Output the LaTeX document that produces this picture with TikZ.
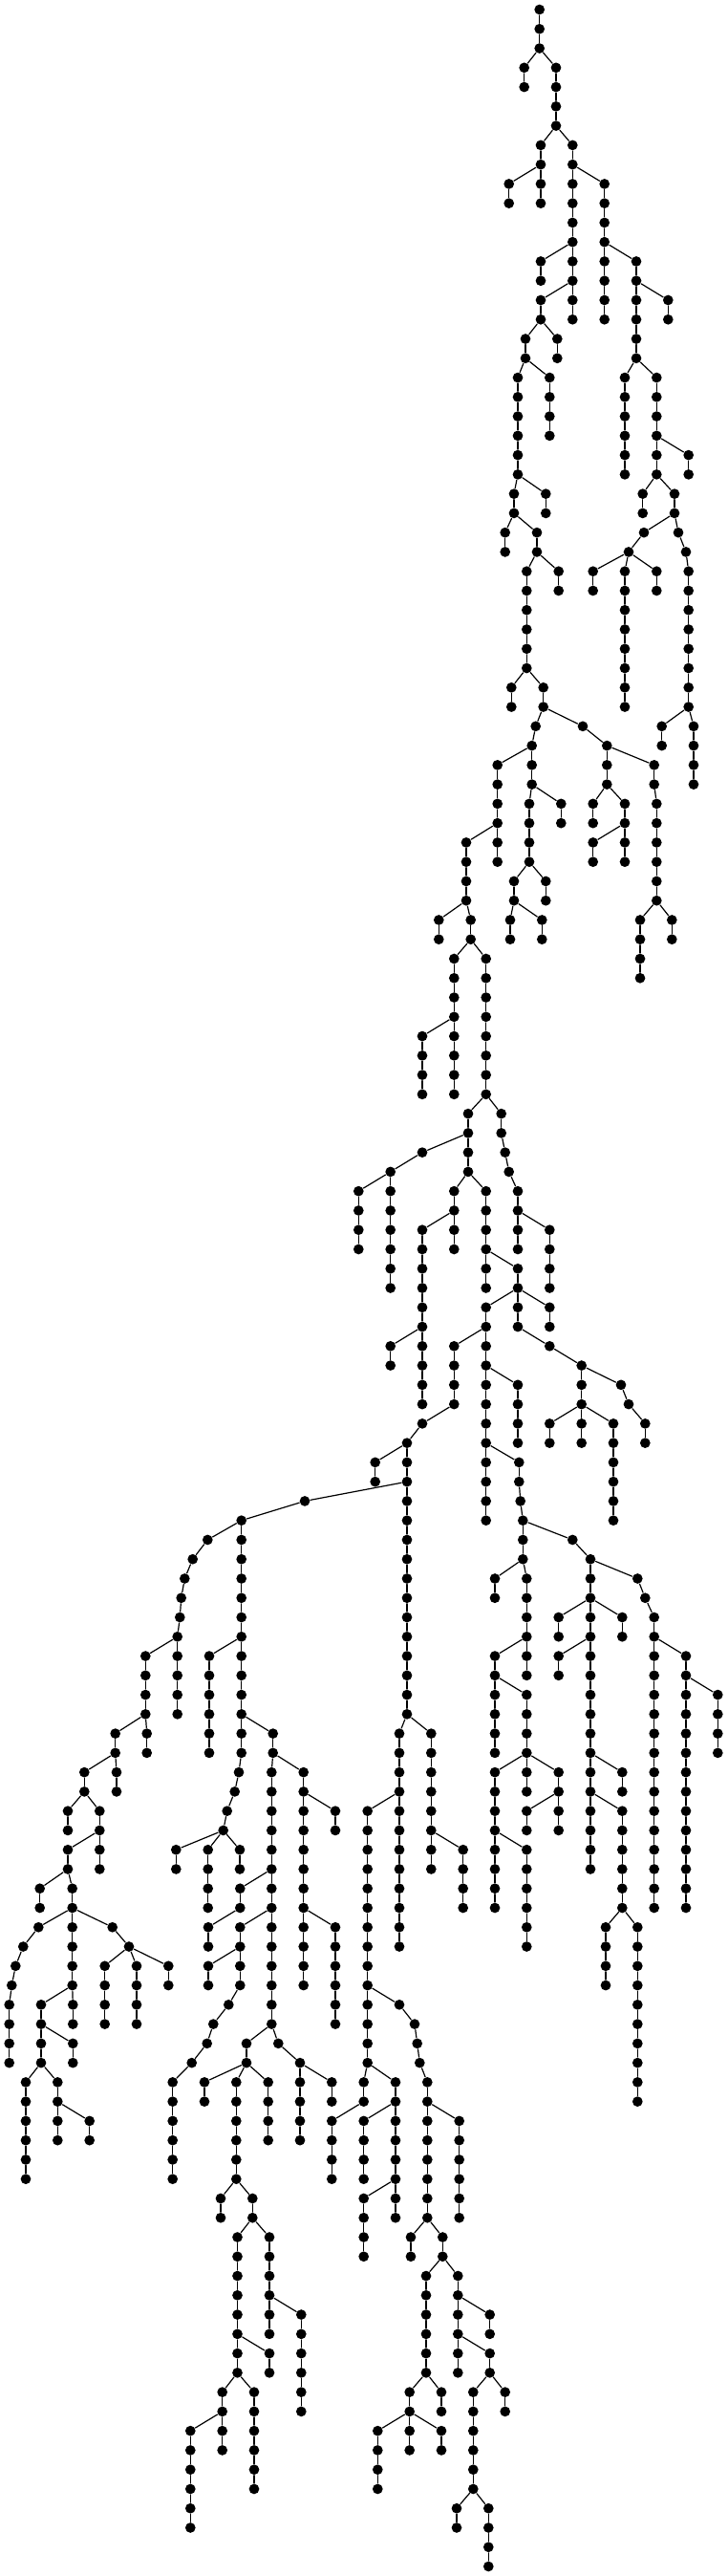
\documentclass[tikz,border=0pt]{standalone}
\begin{document}
\begin{tikzpicture}[x=0.1mm, y=-2.0265mm, line join=round, line cap=round,
	dot/.style={circle, fill=black, inner sep=0pt, minimum size=1.07mm},
	edge/.style={line width=0.12mm}]
	\def\chain#1#2#3#4#5{%
		\foreach \lv in {#4,...,#5}{%
			\pgfmathtruncatemacro{\prevlv}{\lv-1}
			\node[dot] (#1-\lv) at (#3,\lv) {};
			\ifnum\lv=#4 \draw[edge] (#2)--(#1-\lv); \else \draw[edge] (#1-\prevlv)--(#1-\lv); \fi}}
	\def\nd#1#2#3#4{\node[dot] (#1-#4) at (#3,#4) {}; \draw[edge] (#2)--(#1-#4);}
	\useasboundingbox (0,-0.4935) rectangle (762,132.494);
	%\draw[color=gray!50,dashed] (0,0) grid[xstep=100,ystep=10] (762,132);
	\node[dot] (r-0) at (564.7,0) {};
	\chain{r}{r-0}{564.7}{1}{2}
	\chain{a}{r-2}{548.7}{3}{4}
	\chain{b}{r-2}{582}{3}{6}
	\chain{c}{b-6}{566}{7}{10}
	\chain{d}{c-8}{532.7}{9}{10}
	\chain{e}{b-6}{599.3}{7}{16}
	\chain{f}{e-8}{632.7}{9}{16}
	\chain{g}{e-12}{566}{13}{14}
	\chain{h}{e-14}{566}{15}{16}
	\chain{i}{f-12}{666}{13}{18}
	\chain{j}{i-14}{699.3}{15}{16}
	\chain{k}{h-16}{550}{17}{18}
	\chain{l}{h-16}{583.3}{17}{18}
	\chain{m}{k-18}{542}{19}{24}
	\chain{n}{k-18}{575.3}{19}{22}
	\chain{o}{i-18}{654}{19}{24}
	\chain{p}{i-18}{687.3}{19}{24}
	\chain{q}{p-22}{720.7}{23}{24}
	\chain{s}{m-24}{538}{25}{26}
	\chain{t}{m-24}{571.3}{25}{26}
	\chain{u}{p-24}{672.7}{25}{26}
	\chain{v}{p-24}{706}{25}{26}
	\chain{w}{s-26}{528.7}{27}{28}
	\chain{xa}{s-26}{562}{27}{28}
	\nd{ya}{v-26}{674}{27}
	\nd{ya}{ya-27}{658}{28}
	\nd{zb}{v-26}{710}{27}
	\nd{zb}{zb-27}{718}{28}
	\chain{zb}{zb-28}{720.7}{29}{36}
	\chain{aa}{xa-28}{551.3}{29}{34}
	\chain{ab}{xa-28}{584.7}{29}{30}
	\chain{ac}{ya-28}{620.7}{29}{30}
	\chain{ad}{ya-28}{654}{29}{36}
	\chain{ae}{ya-28}{687.3}{29}{30}
	\chain{af}{aa-34}{535.3}{35}{36}
	\chain{ag}{aa-34}{568.7}{35}{36}
	\chain{ah}{zb-36}{692.7}{37}{38}
	\chain{ai}{zb-36}{726}{37}{40}
	\nd{aj}{ag-36}{560.7}{37}
	\chain{aj}{aj-37}{556.7}{38}{40}
	\chain{ak}{aj-38}{520.7}{39}{44}
	\nd{al}{ag-36}{610}{37}
	\chain{al}{al-37}{635.3}{38}{40}
	\chain{am}{al-38}{684.7}{39}{40}
	\chain{am}{am-40}{687.3}{41}{46}
	\chain{an}{aj-40}{554}{41}{44}
	\chain{ao}{aj-40}{587.3}{41}{42}
	\chain{ap}{al-40}{620.7}{41}{42}
	\chain{aq}{al-40}{654}{41}{44}
	\chain{ar}{aq-42}{620.7}{43}{44}
	\chain{as}{ak-42}{488}{43}{46}
	\chain{at}{an-44}{538}{45}{46}
	\chain{au}{an-44}{571.3}{45}{46}
	\chain{av}{am-46}{670}{47}{50}
	\chain{aw}{am-46}{703.3}{47}{48}
	\chain{ax}{as-46}{459.3}{47}{48}
	\chain{ay}{as-46}{492.7}{47}{48}
	\chain{az}{at-46}{534}{47}{48}
	\chain{ba}{at-46}{567.3}{47}{48}
	\chain{bb}{ay-48}{475.3}{49}{56}
	\chain{bc}{bb-52}{442}{53}{56}
	\chain{bd}{ay-48}{508.7}{49}{56}
	\chain{be}{bd-56}{490}{57}{60}
	\nd{bf}{be-58}{442}{59}
	\chain{bf}{bf-59}{408.7}{60}{66}
	\chain{bg}{bf-60}{375.3}{61}{64}
	\chain{bh}{bd-56}{524.7}{57}{58}
	\nd{bh}{bh-58}{528.7}{59}
	\nd{bh}{bh-59}{532.7}{60}
	\chain{bh}{bh-60}{542}{61}{64}
	\chain{bi}{bh-62}{575.3}{63}{66}
	\chain{bj}{be-60}{475.3}{61}{64}
	\chain{bk}{bj-62}{442}{63}{72}
	\chain{bl}{bk-68}{408.7}{69}{70}
	\chain{bm}{be-60}{508.7}{61}{66}
	\chain{bn}{bm-64}{542}{65}{68}
	\chain{bo}{bn-66}{508.7}{67}{78}
	\chain{bp}{bn-66}{575.3}{67}{68}
	\nd{bq}{bn-68}{575.3}{69}
	\chain{bq}{bq-69}{608.7}{70}{74}
	\nd{br}{bq-70}{650}{71}
	\nd{br}{br-71}{658}{72}
	\chain{br}{br-72}{675.3}{73}{74}
	\chain{bs}{bq-72}{575.3}{73}{74}
	\chain{bt}{bq-72}{642}{73}{78}
	\chain{bu}{bo-68}{475.3}{69}{72}
	\nd{bu}{bu-72}{442}{73}
	\chain{bu}{bu-73}{426}{74}{88}
	\chain{bv}{bu-74}{392.7}{75}{76}
	\chain{bw}{bo-70}{542}{71}{74}
	\chain{bx}{bo-74}{543.3}{75}{76}
	\nd{bx}{bx-76}{544.7}{77}
	\chain{bx}{bx-77}{547.3}{78}{80}
	\chain{by}{bx-80}{518}{81}{82}
	\chain{bz}{bx-80}{551.3}{81}{86}
	\chain{ca}{bz-84}{518}{85}{90}
	\chain{cb}{ca-86}{551.3}{87}{92}
	\chain{cc}{cb-90}{518}{91}{98}
	\chain{cd}{cb-90}{584.7}{91}{94}
	\chain{ce}{cc-94}{551.3}{95}{100}
	\chain{cf}{cd-92}{551.3}{93}{94}
	\nd{cg}{bx-78}{599.3}{79}
	\chain{cg}{cg-79}{618}{80}{96}
	\nd{ch}{cg-80}{667.3}{81}
	\nd{ch}{ch-81}{675.3}{82}
	\chain{ch}{ch-82}{684.7}{83}{98}
	\chain{ci}{cg-82}{584.7}{83}{84}
	\chain{cj}{cg-82}{651.3}{83}{84}
	\chain{ck}{cg-84}{584.7}{85}{86}
	\chain{cl}{ch-84}{718}{85}{98}
	\chain{cm}{cl-86}{751.3}{87}{90}
	\chain{cn}{cg-90}{651.3}{91}{92}
	\chain{co}{cg-92}{651.3}{93}{98}
	\chain{cp}{co-98}{634}{99}{102}
	\chain{cq}{co-98}{667.3}{99}{108}
	% left part
	\nd{da}{bu-76}{319}{77}
	\chain{da}{da-77}{252.7}{78}{90}
	\nd{da}{da-90}{250}{91}
	\nd{da}{da-91}{245.7}{92}
	\nd{da}{da-92}{237.7}{93}
	\nd{da}{da-93}{233.7}{94}
	\nd{db}{da-78}{217.3}{79}
	\nd{db}{db-79}{201.7}{80}
	\nd{db}{db-80}{193.3}{81}
	\nd{db}{db-81}{189.7}{82}
	\nd{db}{db-82}{188.3}{83}
	\chain{db}{db-83}{185.7}{84}{88}
	\chain{dc}{db-84}{152.3}{85}{88}
	\chain{dd}{dc-88}{153.7}{89}{90}
	\chain{de}{dc-88}{120.7}{89}{90}
	\chain{df}{de-90}{122}{91}{92}
	\chain{dg}{de-90}{88.3}{91}{92}
	\chain{dh}{dg-92}{71}{93}{94}
	\chain{di}{dg-92}{104.3}{93}{96}
	\chain{dj}{di-94}{71}{95}{96}
	\chain{dk}{dj-96}{41.7}{97}{98}
	\chain{dl}{dj-96}{75.7}{97}{98}
	\nd{dm}{dl-98}{40.3}{99}
	\nd{dm}{dm-99}{24.3}{100}
	\nd{dm}{dm-100}{16.3}{101}
	\nd{dm}{dm-101}{12.3}{102}
	\chain{dm}{dm-102}{9.7}{103}{106}
	\chain{dn}{dl-98}{75.7}{99}{102}
	\chain{do}{dn-102}{76.3}{103}{104}
	\chain{dp}{dn-102}{43}{103}{106}
	\chain{dq}{dp-104}{76.3}{105}{106}
	\chain{dr}{dp-106}{27}{107}{112}
	\chain{ds}{dp-106}{60.3}{107}{110}
	\chain{dt}{ds-108}{93.7}{109}{110}
	\nd{du}{dl-98}{117.7}{99}
	\nd{du}{du-99}{135}{100}
	\chain{dv}{du-100}{109.7}{101}{104}
	\chain{dw}{du-100}{143}{101}{104}
	\chain{dx}{du-100}{176.3}{101}{102}
	\chain{dy}{da-94}{184.3}{95}{96}
	\chain{dz}{da-94}{217.7}{95}{98}
	\chain{ea}{da-94}{251}{95}{96}
	\chain{fy}{da-84}{219}{85}{90}
	\chain{eb}{da-88}{285.7}{89}{90}
	\chain{eb}{eb-90}{284.3}{91}{104}
	\chain{ec}{eb-96}{251.3}{97}{98}
	\chain{eg}{ec-98}{218}{99}{100}
	\chain{ed}{eb-98}{251.3}{99}{102}
	\chain{eh}{ed-100}{218}{101}{102}
	\nd{ei}{ed-102}{239.3}{103}
	\nd{ei}{ei-103}{223.3}{104}
	\nd{ei}{ei-104}{216.7}{105}
	\nd{ei}{ei-105}{200.7}{106}
	\chain{ei}{ei-106}{180.7}{107}{112}
	\chain{ee}{eb-104}{258}{105}{106}
	\chain{ej}{ee-106}{214}{107}{108}
	\chain{ek}{ee-106}{247.3}{107}{112}
	\chain{el}{ee-106}{280.7}{107}{110}
	\chain{em}{ek-112}{231}{113}{114}
	\chain{en}{ek-112}{264.3}{113}{114}
	\nd{ef}{eb-104}{291.3}{105}
	\chain{ef}{ef-105}{314}{106}{110}
	\chain{eo}{ef-106}{347.3}{107}{108}
	\chain{ep}{eb-90}{317.7}{91}{102}
	\chain{eq}{ep-92}{351}{93}{94}
	\chain{er}{ep-98}{351}{99}{104}
	% middle part
	\chain{es}{bu-88}{418}{89}{100}
	\chain{eu}{es-92}{384.7}{93}{106}
	\nd{ev}{eu-102}{418}{103}
	\nd{ev}{ev-103}{434}{104}
	\nd{ev}{ev-104}{436.7}{105}
	\nd{ev}{ev-105}{439.3}{106}
	\chain{ev}{ev-106}{447.3}{107}{114}
	\chain{ey}{ev-108}{480.7}{109}{114}
	\chain{ez}{ev-114}{430}{115}{116}
	\chain{fa}{ev-114}{463.3}{115}{116}
	\chain{ew}{eu-106}{380.7}{107}{108}
	\chain{fb}{ew-108}{347.3}{109}{112}
	\chain{ex}{eu-106}{414}{107}{114}
	\chain{fc}{ex-108}{380.7}{109}{112}
	\chain{fd}{ex-112}{380.7}{113}{116}
	\chain{et}{bu-88}{451.3}{89}{96}
	\chain{fe}{et-94}{484.7}{95}{98}
	% bottom part
	\chain{ff}{en-114}{248.5}{115}{122}
	\chain{fg}{en-114}{282}{115}{120}
	\chain{fh}{fg-118}{315.3}{119}{124}
	\chain{fi}{ff-120}{282}{121}{122}
	\chain{fj}{ff-122}{232.7}{123}{126}
	\chain{fk}{fj-124}{199.3}{125}{130}
	\chain{fl}{ff-122}{266}{123}{128}
	\chain{fm}{fa-116}{446}{117}{122}
	\chain{fn}{fa-116}{479.3}{117}{122}
	\chain{fo}{fn-118}{512.7}{119}{120}
	\chain{fp}{fn-120}{512.7}{121}{122}
	\chain{fq}{fm-122}{428.7}{123}{126}
	\chain{fr}{fm-122}{462}{123}{124}
	\chain{fs}{fq-124}{395.3}{125}{128}
	\chain{ft}{fq-124}{462}{125}{126}
	\chain{fu}{fp-122}{495.3}{123}{128}
	\chain{fv}{fp-122}{528.7}{123}{124}
	\chain{fw}{fu-128}{478}{129}{130}
	\chain{fx}{fu-128}{511.3}{129}{132}
\end{tikzpicture}
\end{document}
